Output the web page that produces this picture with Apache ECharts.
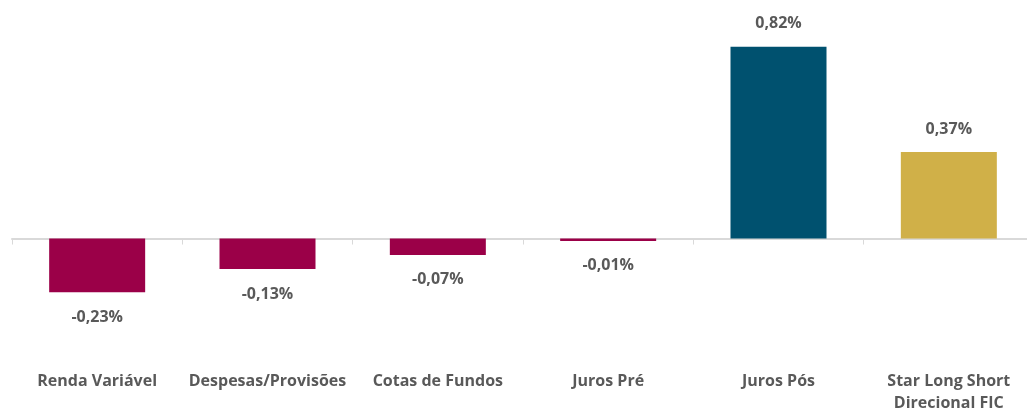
<!DOCTYPE html>
<html>
<head>
<meta charset="utf-8">
<script src="https://cdn.jsdelivr.net/npm/echarts@6/dist/echarts.min.js"></script>
<style>
html,body{margin:0;padding:0;background:#fff;}
#chart{width:1027px;height:411px;}
</style>
</head>
<body>
<div id="chart"></div>
<script>
const categories = ['Renda Variável', 'Despesas/Provisões', 'Cotas de Fundos', 'Juros Pré', 'Juros Pós', 'Star Long Short\nDirecional FIC'];
const values = [-0.23, -0.13, -0.07, -0.01, 0.82, 0.37];
const barColors = ['#9b0048', '#9b0048', '#9b0048', '#9b0048', '#00516f', '#d0b048'];

const fmt = v => v.toFixed(2).replace('.', ',') + '%';

const chart = echarts.init(document.getElementById('chart'));
const textColor = '#595959';
const fontFamily = '"Open Sans", sans-serif';

chart.setOption({
  animation: false,
  grid: { left: 12, width: 1022, top: 28, height: 327.5, containLabel: false, outerBoundsMode: 'none' },
  xAxis: [
    {
      type: 'category',
      data: categories,
      axisLine: { onZero: true, lineStyle: { color: '#d9d9d9', width: 2 } },
      axisTick: { show: true, length: 6, lineStyle: { color: '#d9d9d9', width: 1 } },
      axisLabel: { show: false },
      splitLine: { show: false }
    },
    {
      type: 'category',
      data: categories,
      position: 'bottom',
      axisLine: { show: false, onZero: false },
      axisTick: { show: false },
      axisLabel: {
        show: true, margin: 15, color: textColor, fontSize: 16, fontWeight: 'bold',
        fontFamily: fontFamily, lineHeight: 22, interval: 0
      }
    }
  ],
  yAxis: {
    type: 'value', min: -0.5, max: 0.9, show: false,
    splitLine: { show: false }
  },
  series: [{
    type: 'bar',
    xAxisIndex: 0,
    barWidth: 96,
    data: values.map((v, i) => ({
      value: v,
      itemStyle: { color: barColors[i] },
      label: { position: v < 0 ? 'bottom' : 'top', distance: v < 0 ? 17 : 15 }
    })),
    label: {
      show: true, distance: 15, color: textColor, fontSize: 16, fontWeight: 'bold',
      fontFamily: fontFamily,
      formatter: p => fmt(p.value)
    }
  }]
});
</script>
</body>
</html>
